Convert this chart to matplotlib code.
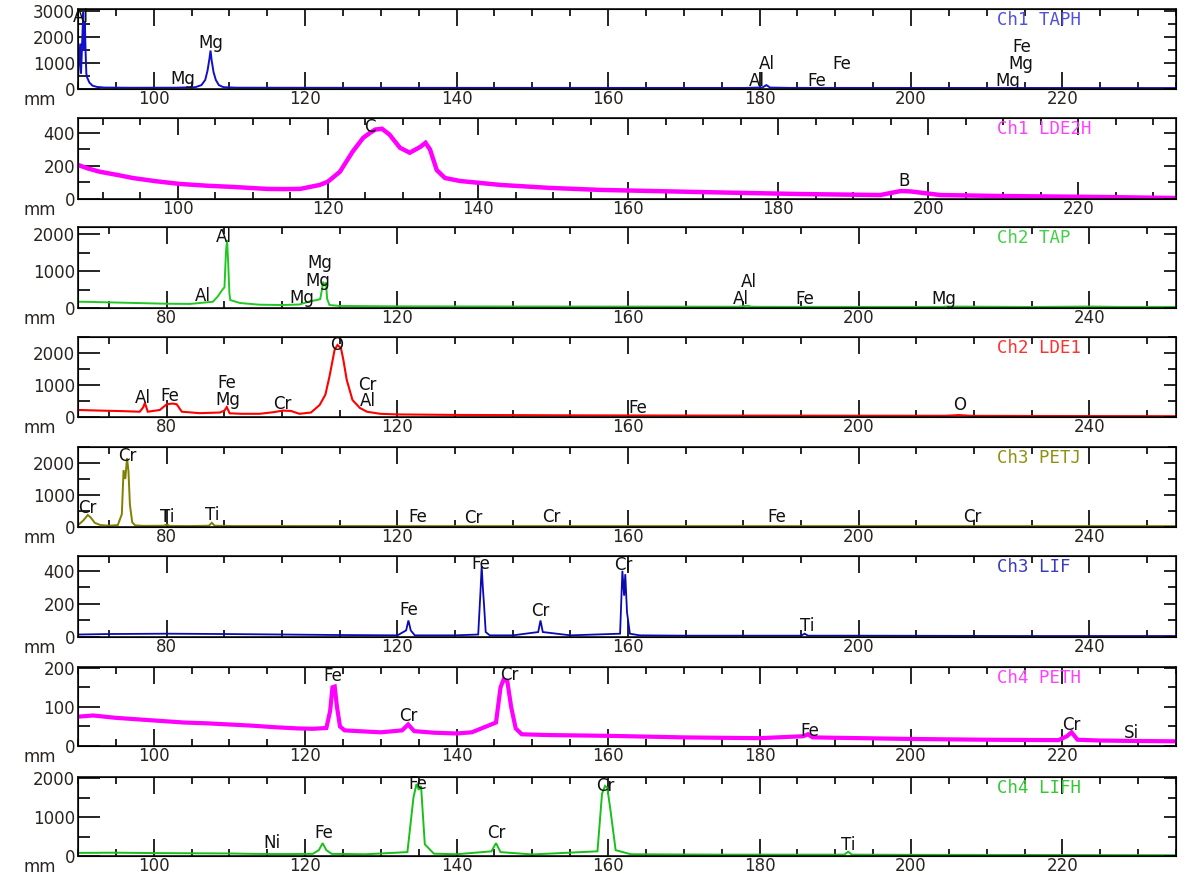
import matplotlib
matplotlib.use("Agg")
import matplotlib.pyplot as plt
from matplotlib.ticker import MultipleLocator

plt.rcParams['font.family'] = ['DejaVu Sans']

# ---------------- data (L value in mm, counts) ----------------
taph_x = [90.0, 90.3, 90.4, 90.55, 90.7, 90.8, 90.9, 91.0, 91.1, 91.2, 91.5, 91.9, 92.5, 93.5, 97,
          103, 105.5, 106.3, 106.8, 107.1, 107.35, 107.5, 107.65, 107.9, 108.2, 108.6, 109.2, 111,
          125, 150, 178, 180.4, 180.9, 181.4, 184, 200, 220, 235]
taph_y = [420, 1750, 600, 1800, 2950, 1500, 2600, 1450, 600, 450, 250, 130, 80, 55, 48,
          50, 70, 150, 350, 700, 1150, 1480, 1100, 650, 350, 150, 70, 50,
          45, 42, 40, 60, 150, 55, 42, 40, 38, 36]
taph_labels = [("Al", 90.4, 2760), ("Mg", 107.5, 1790), ("Mg", 103.8, 390),
               ("Al", 181.0, 970), ("Al", 179.7, 310), ("Fe", 190.9, 970), ("Fe", 187.6, 310),
               ("Fe", 214.6, 1630), ("Mg", 214.5, 970), ("Mg", 212.8, 310)]

lde2h_x = [86.7, 88, 89.6, 92, 94, 97, 100.3, 104, 107.4, 110, 111.9, 114, 116.3, 118.9, 120,
           121.6, 123.3, 124.7, 125.6, 126.3, 127.2, 128.2, 129.6, 130.9, 132.3, 133.0, 133.6,
           134.5, 135.6, 137.6, 143, 149.6, 156.3, 169.6, 183, 193.6, 196.3, 197.6, 201.6,
           209.6, 223, 233]
lde2h_y = [206, 185, 165, 145, 127, 108, 91, 80, 73, 66, 61, 60, 61, 85, 105,
           165, 287, 370, 400, 420, 425, 390, 310, 280, 315, 340, 300,
           175, 127, 109, 85, 67, 55, 42, 30, 24, 48, 46, 24,
           18, 12, 6]
lde2h_labels = [("C", 125.6, 436), ("B", 196.7, 109)]

tap_x = [64.6, 68, 72, 76, 80, 84, 85.7, 88.0, 88.8, 89.6, 90.0, 90.25, 90.45, 90.65, 90.85, 91.0,
         92.7, 96, 100, 103, 104.8, 106.0, 106.6, 106.9, 107.1, 107.3, 107.6, 107.8, 108.2, 110,
         120, 140, 160, 179, 180.8, 181.3, 183, 200, 214.5, 215, 230, 240, 245, 255]
tap_y = [170, 160, 145, 130, 115, 110, 135, 170, 305, 486, 560, 1500, 1840, 1200, 400, 216,
         135, 90, 80, 95, 180, 216, 240, 500, 710, 600, 690, 250, 80, 55,
         45, 40, 38, 35, 60, 35, 32, 30, 30, 40, 28, 40, 30, 30]
tap_labels = [("Al", 89.9, 1920), ("Al", 86.2, 324), ("Mg", 106.5, 1216), ("Mg", 106.2, 730),
              ("Mg", 103.4, 270), ("Al", 180.9, 700), ("Al", 179.5, 243), ("Fe", 190.7, 243),
              ("Mg", 214.7, 243)]

lde1_x = [64.6, 68.4, 72, 75.3, 75.9, 76.2, 76.7, 78.8, 80.0, 81.0, 81.7, 82.6, 85.7, 89.2,
          90.0, 90.4, 90.9, 93, 96.1, 98.5, 100.1, 101.5, 103, 105, 106.5, 107.5, 108.2, 109.1,
          109.6, 110.2, 110.6, 111.2, 112.2, 113.5, 114.7, 117, 120, 130, 150, 170, 200,
          215, 217.4, 219.5, 235, 255]
lde1_y = [220, 200, 185, 165, 300, 440, 165, 220, 400, 420, 400, 165, 120, 140,
          200, 310, 115, 100, 100, 150, 200, 190, 100, 140, 375, 700, 1260, 2100,
          2250, 2150, 1800, 1160, 530, 280, 165, 100, 80, 65, 52, 45, 40,
          38, 60, 36, 30, 25]
lde1_labels = [("Al", 75.8, 594), ("Fe", 80.5, 656), ("Fe", 90.4, 1060), ("Mg", 90.6, 530),
               ("Cr", 100.1, 406), ("O", 109.5, 2250), ("Cr", 114.8, 1000), ("Al", 114.8, 500),
               ("Fe", 161.6, 280), ("O", 217.4, 375)]

petj_x = [64.6, 65.5, 66.3, 66.8, 67.5, 68.5, 70, 71.5, 72.2, 72.5, 72.8, 73.1, 73.35, 73.6,
          74.0, 74.5, 76, 79.5, 80.0, 80.5, 84, 87.3, 87.8, 88.3, 92, 100, 120, 140, 160, 200,
          230, 255]
petj_y = [60, 200, 375, 300, 130, 60, 40, 60, 400, 1780, 1500, 2150, 1750, 700,
          150, 50, 35, 40, 80, 35, 30, 40, 130, 40, 30, 30, 28, 28, 28, 28,
          28, 28]
petj_labels = [("Cr", 66.3, 590), ("Cr", 73.2, 2220), ("Ti", 80.0, 310), ("Ti", 87.8, 375),
               ("Fe", 123.5, 310), ("Cr", 133.2, 280), ("Cr", 146.6, 310), ("Fe", 185.7, 310),
               ("Cr", 219.7, 310)]

lif_x = [64.6, 70, 80, 90, 100, 110, 120, 121.5, 121.9, 122.3, 123, 130, 134.0, 134.4, 134.6,
         134.8, 135.0, 135.3, 136, 140, 144.4, 144.8, 145.2, 150, 158.6, 159.0, 159.3, 159.5,
         159.8, 160.3, 162, 170, 190, 190.6, 191.2, 200, 230, 255]
lif_y = [15, 18, 20, 18, 15, 12, 10, 40, 100, 40, 10, 10, 15, 280, 430,
         300, 200, 30, 10, 10, 30, 100, 30, 10, 20, 400, 250, 380,
         150, 20, 10, 8, 8, 20, 8, 8, 6, 6]
lif_labels = [("Fe", 121.9, 164), ("Fe", 134.4, 442), ("Cr", 144.8, 158), ("Cr", 159.2, 436),
              ("Ti", 191.1, 67)]

peth_x = [90, 92, 95, 98, 101, 104, 107, 110, 113, 116, 119, 121, 122.8, 123.3, 123.6, 123.9,
          124.2, 124.6, 125.2, 127, 130, 132.8, 133.6, 134.4, 137, 140, 142, 145.2, 145.8,
          146.2, 146.7, 147.2, 147.8, 148.6, 152, 160, 170, 180, 185.8, 186.4, 187, 200, 210,
          219.5, 220.6, 221.2, 222, 225, 229, 235]
peth_y = [75, 78, 72, 68, 64, 60, 58, 55, 52, 48, 45, 44, 46, 90, 150, 152,
          100, 50, 40, 38, 35, 40, 55, 38, 34, 32, 35, 60, 150,
          170, 165, 100, 45, 30, 28, 26, 22, 20, 25, 30, 22, 18, 16,
          15, 25, 35, 16, 14, 13, 12]
peth_labels = [("Fe", 123.7, 179), ("Cr", 133.6, 77), ("Cr", 146.9, 182), ("Fe", 186.7, 38),
               ("Cr", 221.2, 54), ("Si", 229.1, 33)]

lifh_x = [90, 95, 100, 105, 110, 113, 115.5, 118, 121, 121.8, 122.3, 122.8, 123.5, 128, 133.5,
          134.3, 134.7, 135.0, 135.3, 135.8, 137, 140, 144.6, 145.2, 145.8, 150, 158.6, 159.2,
          159.6, 159.9, 160.3, 161, 163, 175, 191.2, 191.7, 192.2, 200, 220, 235]
lifh_y = [80, 85, 75, 70, 65, 55, 50, 50, 55, 150, 330, 150, 55, 45, 100,
          1500, 1850, 1700, 1800, 300, 60, 45, 120, 330, 100, 40, 120, 1600,
          1800, 1750, 1200, 150, 45, 35, 35, 110, 35, 30, 25, 20]
lifh_labels = [("Ni", 115.6, 330), ("Fe", 122.5, 590), ("Fe", 134.9, 1850), ("Cr", 145.3, 590),
               ("Cr", 159.7, 1800), ("Ti", 191.7, 280)]

channel_names = ["Ch1 TAPH", "Ch1 LDE2H", "Ch2 TAP", "Ch2 LDE1",
                 "Ch3 PETJ", "Ch3 LIF", "Ch4 PETH", "Ch4 LIFH"]

# ---------------- layout / style ----------------
series = [(taph_x, taph_y, taph_labels), (lde2h_x, lde2h_y, lde2h_labels),
          (tap_x, tap_y, tap_labels), (lde1_x, lde1_y, lde1_labels),
          (petj_x, petj_y, petj_labels), (lif_x, lif_y, lif_labels),
          (peth_x, peth_y, peth_labels), (lifh_x, lifh_y, lifh_labels)]
line_colors = ["#1010cc", "#ff00ff", "#22c822", "#ff0000", "#808000", "#0a0ab4", "#ff00ff", "#18c018"]
name_colors = ["#5050dd", "#ff40ff", "#44d044", "#ff3030", "#909010", "#3a3ac0", "#ff40ff", "#33c833"]
line_widths = [1.4, 3.2, 1.4, 1.5, 1.4, 1.3, 3.0, 1.4]
xlims = [(90, 235), (86.7, 233), (64.6, 255), (64.6, 255), (64.6, 255), (64.6, 255), (90, 235), (90, 235)]
ylims = [(0, 3080), (0, 490), (0, 2190), (0, 2500), (0, 2500), (0, 490), (0, 202), (0, 2030)]
ymajor = [1000, 200, 1000, 1000, 1000, 200, 100, 1000]
xmajor = [20, 20, 40, 40, 40, 40, 20, 20]
tops = [9, 118, 227, 337, 447, 556, 667, 777]
bottoms = [89, 199, 308, 417, 527, 637, 746, 856]

W, H = 1190, 875
fig = plt.figure(figsize=(W / 100, H / 100), dpi=100)
fig.patch.set_facecolor("white")
left_px, right_px = 78, 1176
tick_col = "#2a2420"
fs = 12

for i, (xs, ys, labels) in enumerate(series):
    t, b = tops[i], bottoms[i]
    ax = fig.add_axes([left_px / W, 1 - b / H, (right_px - left_px) / W, (b - t) / H])
    ax.plot(xs, ys, color=line_colors[i], lw=line_widths[i], solid_joinstyle="miter", zorder=2)
    ax.set_xlim(*xlims[i])
    ax.set_ylim(*ylims[i])
    ax.xaxis.set_major_locator(MultipleLocator(xmajor[i]))
    ax.xaxis.set_minor_locator(MultipleLocator(xmajor[i] / 4))
    ax.yaxis.set_major_locator(MultipleLocator(ymajor[i]))
    ax.yaxis.set_minor_locator(MultipleLocator(ymajor[i] / 2))
    ax.tick_params(axis="x", which="major", direction="in", length=12, width=1.2,
                   top=True, bottom=True, labelsize=fs, labelcolor=tick_col, pad=1)
    ax.tick_params(axis="x", which="minor", direction="in", length=5, width=1.2,
                   top=True, bottom=True)
    ax.tick_params(axis="y", which="major", direction="in", length=16, width=1.2,
                   left=True, right=False, labelsize=fs, labelcolor=tick_col, pad=2)
    ax.tick_params(axis="y", which="minor", direction="in", length=8.5, width=1.2,
                   left=True, right=False)
    for s in ax.spines.values():
        s.set_linewidth(1.2)
        s.set_color("#111111")
    ax2 = ax.twinx()
    ax2.set_ylim(*ylims[i])
    ax2.yaxis.set_major_locator(MultipleLocator(ymajor[i]))
    ax2.yaxis.set_minor_locator(MultipleLocator(ymajor[i] / 2))
    ax2.tick_params(axis="y", which="major", direction="in", length=9, width=1.2, labelright=False)
    ax2.tick_params(axis="y", which="minor", direction="in", length=6, width=1.2)
    for txt, lx, ly in labels:
        ax.text(lx, ly, txt, ha="center", va="center", fontsize=fs, color="#111111", zorder=3,
                clip_on=False)
    ax.text(0.837, 1 - 11 / (b - t), channel_names[i], transform=ax.transAxes,
            ha="left", va="center", fontsize=12.5, family="DejaVu Sans Mono",
            color=name_colors[i])
    fig.text(40 / W, 1 - (b + 11) / H, "mm", ha="center", va="center", fontsize=fs, color=tick_col)

fig.savefig("out.png", dpi=100, facecolor="white")
